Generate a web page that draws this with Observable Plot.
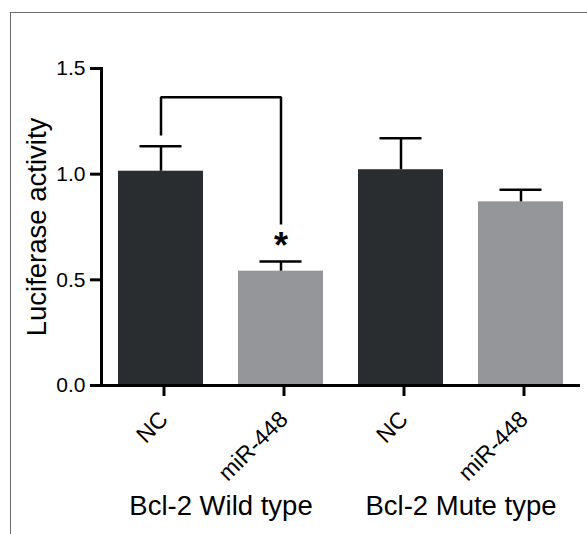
<!DOCTYPE html>
<html><head><meta charset="utf-8">
<script src="https://cdn.jsdelivr.net/npm/d3@7"></script>
<script src="https://cdn.jsdelivr.net/npm/@observablehq/plot@0.6"></script>
<style>
html,body{margin:0;padding:0;background:#fff;overflow:hidden;}
#wrap{position:relative;width:587px;height:534px;overflow:hidden;}
#border{position:absolute;left:10px;top:12px;width:700px;height:700px;border:1.5px solid #6a6a6a;box-sizing:border-box;}
#chart{position:absolute;left:0;top:0;}
#chart [aria-label="y-axis tick"], #chart [aria-label="x-axis tick"], #chart [aria-label="y-axis tick"] *, #chart [aria-label="x-axis tick"] *, #chart [aria-label="frame"], #chart [aria-label="frame"] * {stroke-width:3px !important; stroke:#000 !important;}
</style></head>
<body><div id="wrap"><div id="border"></div><div id="chart"></div></div>
<script>
const groups = ["Bcl-2 Wild type", "Bcl-2 Mute type"];
const treatments = ["NC", "miR-448"];
const means = [1.014, 0.541, 1.021, 0.869];
const errors = [0.118, 0.046, 0.149, 0.057];
const yTicks = [0, 0.5, 1.0, 1.5];
const yLabel = "Luciferase activity";
const bracketY = [1.183, 1.364, 1.364, 0.762];
const starY = 0.66;

const rows = groups.flatMap((g, gi) => treatments.map((t, ti) => ({
  key: g + "|" + t, group: g, treatment: t,
  mean: means[gi * 2 + ti], err: errors[gi * 2 + ti]
})));
const keys = rows.map(d => d.key);
const bracket = [
  {key: keys[0], y: bracketY[0]},
  {key: keys[0], y: bracketY[1]},
  {key: keys[1], y: bracketY[2]},
  {key: keys[1], y: bracketY[3]}
];
const groupLabels = groups.map((g, i) => ({key: keys[i * 2], label: g}));

const plot = Plot.plot({
  width: 587, height: 534,
  marginLeft: 101, marginRight: 7, marginTop: 68, marginBottom: 149,
  style: {fontFamily: "'Liberation Sans', Arial, Helvetica, sans-serif", background: "transparent", color: "#000"},
  x: {domain: keys, paddingInner: 0.294, paddingOuter: 0.136},
  y: {domain: [0, 1.5]},
  color: {domain: treatments, range: ["#2a2d30", "#95969a"]},
  marks: [
    Plot.barY(rows, {x: "key", y: "mean", fill: "treatment"}),
    Plot.ruleX(rows, {x: "key", y1: "mean", y2: d => d.mean + d.err, stroke: "#000", strokeWidth: 2.5}),
    Plot.tickY(rows, {x: "key", y: d => d.mean + d.err, stroke: "#000", strokeWidth: 2.5, insetLeft: 21.5, insetRight: 21.5}),
    Plot.line(bracket, {x: "key", y: "y", stroke: "#000", strokeWidth: 2.5, strokeLinejoin: "miter", strokeLinecap: "butt"}),
    Plot.text([keys[1]], {x: d => d, y: () => starY, text: () => "*", fontSize: 36, fontWeight: "bold"}),
    Plot.axisY({ticks: yTicks, tickFormat: d3.format(".1f"), tickSize: 11, tickPadding: 5, fontSize: 21, strokeWidth: 3, label: null}),
    Plot.axisX({tickFormat: k => k.split("|")[1], tickRotate: -45, tickSize: 11, tickPadding: 19, dx: 3, fontSize: 23, strokeWidth: 3, label: null}),
    Plot.ruleY([0], {stroke: "#000", strokeWidth: 3, insetLeft: -10}),
    Plot.frame({anchor: "left", stroke: "#000", strokeWidth: 3}),
    Plot.text(groupLabels, {x: "key", text: "label", frameAnchor: "bottom", dx: 60, dy: 129, fontSize: 27.5}),
    Plot.text([yLabel], {text: d => d, frameAnchor: "left", textAnchor: "middle", rotate: -90, dx: -64, fontSize: 27.5})
  ]
});
document.getElementById("chart").appendChild(plot);
</script>
</body></html>
